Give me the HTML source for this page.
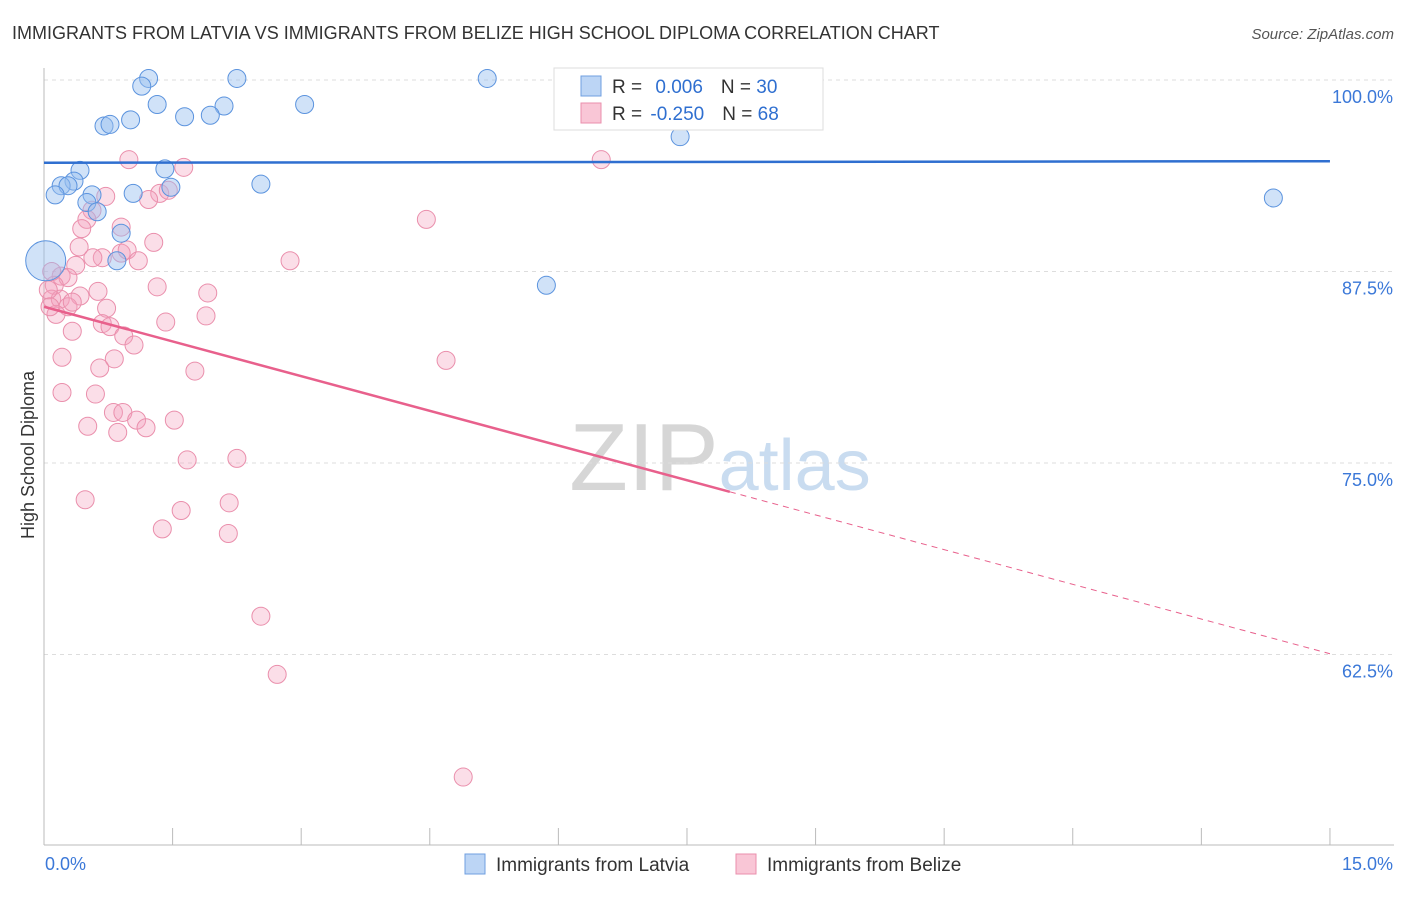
<!DOCTYPE html>
<html><head><meta charset="utf-8"><style>
body{margin:0;background:#fff;font-family:"Liberation Sans",sans-serif;}
svg text{font-family:"Liberation Sans",sans-serif;}
</style></head><body>
<svg id="c" width="1406" height="892" xmlns="http://www.w3.org/2000/svg">
<text x="12" y="39" font-size="18" fill="#333">IMMIGRANTS FROM LATVIA VS IMMIGRANTS FROM BELIZE HIGH SCHOOL DIPLOMA CORRELATION CHART</text>
<text x="1394" y="39" font-size="15" fill="#555" font-style="italic" text-anchor="end">Source: ZipAtlas.com</text>
<text x="720" y="490" font-size="96" fill="#ddd" text-anchor="middle" font-family="Liberation Serif"><tspan fill="#d6d6d6">ZIP</tspan><tspan fill="#c9dcf0" font-family="Liberation Sans" font-size="72">atlas</tspan></text>
<text transform="translate(34,455) rotate(-90)" font-size="18" fill="#333" text-anchor="middle">High School Diploma</text>
<g id="grid"></g><g id="pts"></g><g id="lines"></g>
<g>
<rect x="554" y="68" width="269" height="62" fill="#fff" stroke="#ddd"/>
<rect x="581" y="76" width="20" height="20" fill="#bcd5f5" stroke="#6f9fe0"/>
<rect x="581" y="103" width="20" height="20" fill="#f9c6d6" stroke="#ea8fac"/>
<text x="612" y="93" font-size="19" fill="#333">R = <tspan fill="#2f6fd0" dx="8">0.006</tspan><tspan fill="#333" dx="18">N = </tspan><tspan fill="#2f6fd0">30</tspan></text>
<text x="612" y="120" font-size="19" fill="#333">R = <tspan fill="#2f6fd0" dx="3">-0.250</tspan><tspan fill="#333" dx="18">N = </tspan><tspan fill="#2f6fd0">68</tspan></text>
</g>
<g>
<rect x="465" y="854" width="20" height="20" fill="#bcd5f5" stroke="#6f9fe0"/>
<text x="496" y="871" font-size="19" fill="#333">Immigrants from Latvia</text>
<rect x="736" y="854" width="20" height="20" fill="#f9c6d6" stroke="#ea8fac"/>
<text x="767" y="871" font-size="19" fill="#333">Immigrants from Belize</text>
</g>
</svg>
<script>
const xTicks=[0,1.5,3,4.5,6,7.5,9,10.5,12,13.5,15];
const yTicks=[100,87.5,75,62.5];
const yTickLabels=["100.0%","87.5%","75.0%","62.5%"];
const latviaX=[1.22,1.14,2.25,5.17,1.32,2.1,3.04,1.64,1.94,1.01,0.7,0.77,7.42,1.41,0.42,0.35,0.2,0.28,0.13,1.04,0.56,1.48,2.53,0.5,0.62,0.9,0.85,5.86,14.34,0.02];
const latviaY=[100.1,99.6,100.1,100.1,98.4,98.3,98.4,97.6,97.7,97.4,97,97.1,96.3,94.2,94.1,93.4,93.1,93.1,92.5,92.6,92.5,93,93.2,92,91.4,90,88.2,86.6,92.3,88.2];
const latviaR=[9,9,9,9,9,9,9,9,9,9,9,9,9,9,9,9,9,9,9,9,9,9,9,9,9,9,9,9,9,20];
const belizeX=[0.99,6.5,1.63,1.35,1.45,1.22,0.72,0.56,0.5,4.46,0.44,0.9,0.41,1.28,0.9,0.97,0.68,0.57,1.1,0.37,2.87,0.2,0.28,0.12,0.09,0.19,1.32,1.91,0.63,0.42,0.28,0.33,0.73,0.14,1.89,1.42,0.68,0.77,0.33,0.93,1.05,0.21,0.82,4.69,0.65,1.76,0.21,0.6,0.81,0.92,1.08,1.52,1.19,0.51,0.86,1.67,2.25,0.48,1.6,2.16,1.38,2.15,2.53,2.72,4.89,0.09,0.05,0.07];
const belizeY=[94.8,94.8,94.3,92.6,92.8,92.2,92.4,91.5,90.9,90.9,90.3,90.4,89.1,89.4,88.7,88.9,88.4,88.4,88.2,87.9,88.2,87.2,87.1,86.6,85.7,85.7,86.5,86.1,86.2,85.9,85.2,85.5,85.1,84.7,84.6,84.2,84.1,83.9,83.6,83.3,82.7,81.9,81.8,81.7,81.2,81,79.6,79.5,78.3,78.3,77.8,77.8,77.3,77.4,77,75.2,75.3,72.6,71.9,72.4,70.7,70.4,65,61.2,54.5,87.5,86.3,85.2];
const W=85.73,X0=44,Y0=80,YS=15.32;
const xs=v=>X0+v*W, ys=v=>Y0+(100-v)*YS;
const NS="http://www.w3.org/2000/svg";
function mk(t,a,p){const e=document.createElementNS(NS,t);for(const k in a)e.setAttribute(k,a[k]);p.appendChild(e);return e;}
const g=document.getElementById('grid');
yTicks.forEach((t,i)=>{
 const l=mk('line',{x1:44,x2:1394,y1:ys(t),y2:ys(t),stroke:'#ddd','stroke-dasharray':'4,4'},g);
 
 
 const tx=mk('text',{x:1393,y:ys(t)+23,'font-size':18,fill:'#3b78d8','text-anchor':'end'},g);
 tx.textContent=yTickLabels[i];
 
 
});
mk('line',{x1:44,x2:44,y1:68,y2:845,stroke:'#bbb'},g);
mk('line',{x1:44,x2:1394,y1:845,y2:845,stroke:'#bbb'},g);
xTicks.forEach(t=>{const l=mk('line',{x1:xs(t),x2:xs(t),y1:828,y2:845,stroke:'#bbb'},g);
 
 });
let a=mk('text',{x:45,y:870,'font-size':18,fill:'#3b78d8'},g);a.textContent='0.0%';


a=mk('text',{x:1393,y:870,'font-size':18,fill:'#3b78d8','text-anchor':'end'},g);a.textContent='15.0%';


const p=document.getElementById('pts');
belizeX.forEach((x,i)=>{const c=mk('circle',{cx:xs(x),cy:ys(belizeY[i]),r:9,fill:'rgba(244,160,188,0.35)',stroke:'#ea8fac','stroke-width':1},p);
 
 });
latviaX.forEach((x,i)=>{const c=mk('circle',{cx:xs(x),cy:ys(latviaY[i]),r:latviaR[i],fill:'rgba(150,190,240,0.45)',stroke:'#5b93de','stroke-width':1},p);
 
 });
const L=document.getElementById('lines');
let t=mk('line',{x1:xs(0),y1:ys(94.6),x2:xs(15),y2:ys(94.7),stroke:'#2f6fd0','stroke-width':2.5},L);


const bA=85.2,bB=-1.51;
t=mk('line',{x1:xs(0),y1:ys(bA),x2:xs(8),y2:ys(bA+bB*8),stroke:'#e8608c','stroke-width':2.5},L);


t=mk('line',{x1:xs(8),y1:ys(bA+bB*8),x2:xs(15),y2:ys(bA+bB*15),stroke:'#e8608c','stroke-width':1,'stroke-dasharray':'6,5'},L);


</script>
</body></html>
